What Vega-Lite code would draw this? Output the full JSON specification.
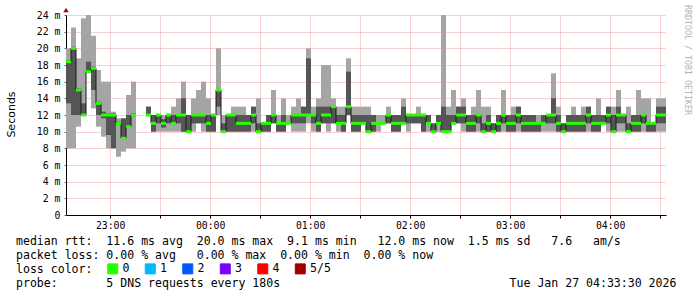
{
"$schema": "https://vega.github.io/schema/vega-lite/v6.json",
"width": 600, "height": 200,
"autosize": {"type": "none"},
"padding": {"left": 66, "top": 15, "right": 31, "bottom": 82},
"background": "white",
"config": {"view": {"stroke": null}},
"title": {"text": [
        "median rtt:\u00a0\u00a011.6\u00a0ms\u00a0avg\u00a0\u00a020.0\u00a0ms\u00a0max\u00a0\u00a09.1\u00a0ms\u00a0min\u00a0\u00a0\u00a012.0\u00a0ms\u00a0now\u00a0\u00a01.5\u00a0ms\u00a0sd\u00a0\u00a0\u00a07.6\u00a0\u00a0\u00a0am/s",
        "packet\u00a0loss:\u00a00.00\u00a0%\u00a0avg\u00a0\u00a0\u00a00.00\u00a0%\u00a0max\u00a0\u00a00.00\u00a0%\u00a0min\u00a0\u00a00.00\u00a0%\u00a0now",
        "loss\u00a0color:",
        "probe:\u00a0\u00a0\u00a0\u00a0\u00a0\u00a0\u00a05\u00a0DNS\u00a0requests\u00a0every\u00a0180s\u00a0\u00a0\u00a0\u00a0\u00a0\u00a0\u00a0\u00a0\u00a0\u00a0\u00a0\u00a0\u00a0\u00a0\u00a0\u00a0\u00a0\u00a0\u00a0\u00a0\u00a0\u00a0\u00a0\u00a0\u00a0\u00a0\u00a0\u00a0\u00a0\u00a0\u00a0\u00a0\u00a0Tue\u00a0Jan\u00a027\u00a004:33:30\u00a02026"
     ],
  "orient": "bottom", "anchor": "start", "frame": "group", "dx": -50, "offset": -40, "baseline": "top", "align": "left", "lineHeight": 14,
  "font": "DejaVu Sans Mono", "fontSize": 11.56, "fontWeight": "normal", "color": "#000000"},
"data": {"values": [
{"t":"2026-01-26T22:33:30","t2":"2026-01-26T22:36:30","lo":8,"q1":13.4,"md":18.4,"q3":18.6,"hi":20,"seg":0,"loss":"0"},
{"t":"2026-01-26T22:36:30","t2":"2026-01-26T22:39:30","lo":8,"q1":12,"md":20,"q3":20.2,"hi":22.5,"seg":0,"loss":"0"},
{"t":"2026-01-26T22:39:30","t2":"2026-01-26T22:42:30","lo":10.6,"q1":12,"md":15,"q3":15.2,"hi":18.8,"seg":0,"loss":"0"},
{"t":"2026-01-26T22:42:30","t2":"2026-01-26T22:45:30","lo":12,"q1":12,"md":12,"q3":13.4,"hi":23.6,"seg":0,"loss":"0"},
{"t":"2026-01-26T22:45:30","t2":"2026-01-26T22:48:30","lo":17.2,"q1":17.2,"md":17.2,"q3":18.4,"hi":24,"seg":0,"loss":"0"},
{"t":"2026-01-26T22:48:30","t2":"2026-01-26T22:51:30","lo":12.8,"q1":15,"md":17.6,"q3":17.8,"hi":21.5,"seg":0,"loss":"0"},
{"t":"2026-01-26T22:51:30","t2":"2026-01-26T22:54:30","lo":10.6,"q1":12,"md":13.4,"q3":13.6,"hi":17.4,"seg":0,"loss":"0"},
{"t":"2026-01-26T22:54:30","t2":"2026-01-26T22:57:30","lo":9.4,"q1":11.6,"md":12,"q3":12.4,"hi":16,"seg":0,"loss":"0"},
{"t":"2026-01-26T22:57:30","t2":"2026-01-26T23:00:30","lo":8,"q1":9.6,"md":12,"q3":12.2,"hi":16,"seg":0,"loss":"0"},
{"t":"2026-01-26T23:00:30","t2":"2026-01-26T23:03:30","lo":8,"q1":8,"md":12,"q3":12.2,"hi":12.4,"seg":0,"loss":"0"},
{"t":"2026-01-26T23:03:30","t2":"2026-01-26T23:06:30","lo":7,"q1":11,"md":11,"q3":11.2,"hi":11.6,"seg":0,"loss":"0"},
{"t":"2026-01-26T23:06:30","t2":"2026-01-26T23:09:30","lo":7.6,"q1":9.2,"md":9.2,"q3":11.6,"hi":11.6,"seg":0,"loss":"0"},
{"t":"2026-01-26T23:09:30","t2":"2026-01-26T23:12:30","lo":8,"q1":10.6,"md":10.6,"q3":12,"hi":14.4,"seg":0,"loss":"0"},
{"t":"2026-01-26T23:12:30","t2":"2026-01-26T23:15:30","lo":8,"q1":12,"md":12,"q3":12.2,"hi":16,"seg":0,"loss":"0"},
{"t":"2026-01-26T23:21:30","t2":"2026-01-26T23:24:30","lo":12,"q1":12,"md":12,"q3":13,"hi":13,"seg":1,"loss":"0"},
{"t":"2026-01-26T23:24:30","t2":"2026-01-26T23:27:30","lo":10,"q1":10,"md":11,"q3":12,"hi":12,"seg":1,"loss":"0"},
{"t":"2026-01-26T23:27:30","t2":"2026-01-26T23:30:30","lo":10,"q1":11,"md":12,"q3":12,"hi":12,"seg":1,"loss":"0"},
{"t":"2026-01-26T23:30:30","t2":"2026-01-26T23:33:30","lo":10,"q1":10.5,"md":11,"q3":11.5,"hi":12,"seg":1,"loss":"0"},
{"t":"2026-01-26T23:33:30","t2":"2026-01-26T23:36:30","lo":10,"q1":11,"md":12,"q3":12,"hi":12,"seg":1,"loss":"0"},
{"t":"2026-01-26T23:36:30","t2":"2026-01-26T23:39:30","lo":10,"q1":11,"md":11,"q3":12,"hi":13,"seg":1,"loss":"0"},
{"t":"2026-01-26T23:39:30","t2":"2026-01-26T23:42:30","lo":10,"q1":11,"md":12,"q3":12,"hi":14,"seg":1,"loss":"0"},
{"t":"2026-01-26T23:42:30","t2":"2026-01-26T23:45:30","lo":10,"q1":10,"md":12,"q3":14,"hi":16,"seg":1,"loss":"0"},
{"t":"2026-01-26T23:45:30","t2":"2026-01-26T23:48:30","lo":10,"q1":10,"md":10,"q3":12,"hi":12,"seg":1,"loss":"0"},
{"t":"2026-01-26T23:48:30","t2":"2026-01-26T23:51:30","lo":10,"q1":11,"md":12,"q3":12,"hi":14,"seg":1,"loss":"0"},
{"t":"2026-01-26T23:51:30","t2":"2026-01-26T23:54:30","lo":11,"q1":11,"md":12,"q3":12,"hi":15,"seg":1,"loss":"0"},
{"t":"2026-01-26T23:54:30","t2":"2026-01-26T23:57:30","lo":10,"q1":11,"md":12,"q3":12,"hi":16,"seg":1,"loss":"0"},
{"t":"2026-01-26T23:57:30","t2":"2026-01-27T00:00:30","lo":10,"q1":10,"md":11,"q3":12,"hi":14,"seg":1,"loss":"0"},
{"t":"2026-01-27T00:00:30","t2":"2026-01-27T00:03:30","lo":10,"q1":10,"md":12,"q3":12,"hi":12,"seg":1,"loss":"0"},
{"t":"2026-01-27T00:03:30","t2":"2026-01-27T00:06:30","lo":12,"q1":13,"md":15,"q3":15,"hi":20,"seg":1,"loss":"0"},
{"t":"2026-01-27T00:06:30","t2":"2026-01-27T00:09:30","lo":10,"q1":10,"md":10,"q3":11,"hi":12,"seg":1,"loss":"0"},
{"t":"2026-01-27T00:09:30","t2":"2026-01-27T00:12:30","lo":10,"q1":10,"md":12,"q3":12,"hi":12,"seg":1,"loss":"0"},
{"t":"2026-01-27T00:12:30","t2":"2026-01-27T00:15:30","lo":10,"q1":10,"md":12,"q3":12,"hi":13,"seg":1,"loss":"0"},
{"t":"2026-01-27T00:15:30","t2":"2026-01-27T00:18:30","lo":10,"q1":10,"md":11,"q3":12,"hi":13,"seg":1,"loss":"0"},
{"t":"2026-01-27T00:18:30","t2":"2026-01-27T00:21:30","lo":10,"q1":10,"md":11,"q3":12,"hi":13,"seg":1,"loss":"0"},
{"t":"2026-01-27T00:21:30","t2":"2026-01-27T00:24:30","lo":10,"q1":10,"md":11,"q3":12,"hi":12,"seg":1,"loss":"0"},
{"t":"2026-01-27T00:24:30","t2":"2026-01-27T00:27:30","lo":10,"q1":11,"md":12,"q3":13,"hi":13,"seg":1,"loss":"0"},
{"t":"2026-01-27T00:27:30","t2":"2026-01-27T00:30:30","lo":10,"q1":10,"md":10,"q3":11,"hi":14,"seg":1,"loss":"0"},
{"t":"2026-01-27T00:30:30","t2":"2026-01-27T00:33:30","lo":10,"q1":10,"md":11,"q3":11,"hi":11,"seg":1,"loss":"0"},
{"t":"2026-01-27T00:33:30","t2":"2026-01-27T00:36:30","lo":10,"q1":10,"md":11,"q3":12,"hi":12,"seg":1,"loss":"0"},
{"t":"2026-01-27T00:36:30","t2":"2026-01-27T00:39:30","lo":11,"q1":11,"md":12,"q3":12,"hi":15,"seg":1,"loss":"0"},
{"t":"2026-01-27T00:39:30","t2":"2026-01-27T00:42:30","lo":10,"q1":10,"md":11,"q3":11,"hi":12,"seg":1,"loss":"0"},
{"t":"2026-01-27T00:42:30","t2":"2026-01-27T00:45:30","lo":10,"q1":10,"md":11,"q3":12,"hi":14,"seg":1,"loss":"0"},
{"t":"2026-01-27T00:45:30","t2":"2026-01-27T00:48:30","lo":11,"q1":11,"md":11,"q3":11,"hi":12,"seg":1,"loss":"0"},
{"t":"2026-01-27T00:48:30","t2":"2026-01-27T00:51:30","lo":10,"q1":11,"md":12,"q3":12,"hi":13,"seg":1,"loss":"0"},
{"t":"2026-01-27T00:51:30","t2":"2026-01-27T00:54:30","lo":10,"q1":11,"md":12,"q3":12,"hi":14,"seg":1,"loss":"0"},
{"t":"2026-01-27T00:54:30","t2":"2026-01-27T00:57:30","lo":10,"q1":11,"md":12,"q3":13,"hi":13,"seg":1,"loss":"0"},
{"t":"2026-01-27T00:57:30","t2":"2026-01-27T01:00:30","lo":11,"q1":12,"md":12,"q3":18.8,"hi":20,"seg":1,"loss":"0"},
{"t":"2026-01-27T01:00:30","t2":"2026-01-27T01:03:30","lo":10,"q1":11,"md":12,"q3":12,"hi":13,"seg":1,"loss":"0"},
{"t":"2026-01-27T01:03:30","t2":"2026-01-27T01:06:30","lo":10,"q1":10,"md":11,"q3":13,"hi":14,"seg":1,"loss":"0"},
{"t":"2026-01-27T01:06:30","t2":"2026-01-27T01:09:30","lo":11,"q1":11,"md":12,"q3":13,"hi":18,"seg":1,"loss":"0"},
{"t":"2026-01-27T01:09:30","t2":"2026-01-27T01:12:30","lo":10,"q1":11,"md":12,"q3":13,"hi":18,"seg":1,"loss":"0"},
{"t":"2026-01-27T01:12:30","t2":"2026-01-27T01:15:30","lo":11,"q1":11,"md":13,"q3":13,"hi":14,"seg":1,"loss":"0"},
{"t":"2026-01-27T01:15:30","t2":"2026-01-27T01:18:30","lo":10,"q1":11,"md":11,"q3":12,"hi":13,"seg":1,"loss":"0"},
{"t":"2026-01-27T01:18:30","t2":"2026-01-27T01:21:30","lo":10,"q1":10,"md":11,"q3":12,"hi":13,"seg":1,"loss":"0"},
{"t":"2026-01-27T01:21:30","t2":"2026-01-27T01:24:30","lo":12,"q1":12,"md":13,"q3":17.2,"hi":18.8,"seg":1,"loss":"0"},
{"t":"2026-01-27T01:24:30","t2":"2026-01-27T01:27:30","lo":10,"q1":10,"md":11,"q3":12,"hi":13,"seg":1,"loss":"0"},
{"t":"2026-01-27T01:27:30","t2":"2026-01-27T01:30:30","lo":10,"q1":10,"md":11,"q3":12,"hi":13,"seg":1,"loss":"0"},
{"t":"2026-01-27T01:30:30","t2":"2026-01-27T01:33:30","lo":11,"q1":11,"md":11,"q3":12,"hi":13,"seg":1,"loss":"0"},
{"t":"2026-01-27T01:33:30","t2":"2026-01-27T01:36:30","lo":10,"q1":10,"md":10,"q3":12,"hi":13,"seg":1,"loss":"0"},
{"t":"2026-01-27T01:36:30","t2":"2026-01-27T01:39:30","lo":10,"q1":10,"md":11,"q3":12,"hi":12,"seg":1,"loss":"0"},
{"t":"2026-01-27T01:39:30","t2":"2026-01-27T01:42:30","lo":10,"q1":11,"md":11,"q3":11,"hi":12,"seg":1,"loss":"0"},
{"t":"2026-01-27T01:42:30","t2":"2026-01-27T01:45:30","lo":11,"q1":11,"md":11,"q3":11,"hi":12,"seg":1,"loss":"0"},
{"t":"2026-01-27T01:45:30","t2":"2026-01-27T01:48:30","lo":11,"q1":11,"md":12,"q3":12,"hi":13,"seg":1,"loss":"0"},
{"t":"2026-01-27T01:48:30","t2":"2026-01-27T01:51:30","lo":10,"q1":10,"md":11,"q3":12,"hi":12,"seg":1,"loss":"0"},
{"t":"2026-01-27T01:51:30","t2":"2026-01-27T01:54:30","lo":10,"q1":10,"md":11,"q3":12,"hi":12,"seg":1,"loss":"0"},
{"t":"2026-01-27T01:54:30","t2":"2026-01-27T01:57:30","lo":11,"q1":11,"md":11,"q3":13,"hi":14,"seg":1,"loss":"0"},
{"t":"2026-01-27T01:57:30","t2":"2026-01-27T02:00:30","lo":10,"q1":11,"md":12,"q3":12,"hi":12,"seg":1,"loss":"0"},
{"t":"2026-01-27T02:00:30","t2":"2026-01-27T02:03:30","lo":11,"q1":11,"md":12,"q3":12,"hi":12,"seg":1,"loss":"0"},
{"t":"2026-01-27T02:03:30","t2":"2026-01-27T02:06:30","lo":11,"q1":11,"md":12,"q3":12,"hi":13,"seg":1,"loss":"0"},
{"t":"2026-01-27T02:06:30","t2":"2026-01-27T02:09:30","lo":10,"q1":10,"md":12,"q3":12,"hi":12,"seg":1,"loss":"0"},
{"t":"2026-01-27T02:09:30","t2":"2026-01-27T02:12:30","lo":10,"q1":11,"md":11,"q3":12,"hi":12,"seg":1,"loss":"0"},
{"t":"2026-01-27T02:12:30","t2":"2026-01-27T02:15:30","lo":10,"q1":10,"md":10,"q3":11,"hi":11,"seg":1,"loss":"0"},
{"t":"2026-01-27T02:15:30","t2":"2026-01-27T02:18:30","lo":10,"q1":11,"md":11,"q3":12,"hi":12,"seg":1,"loss":"0"},
{"t":"2026-01-27T02:18:30","t2":"2026-01-27T02:21:30","lo":10,"q1":10,"md":10,"q3":13,"hi":24,"seg":1,"loss":"0"},
{"t":"2026-01-27T02:21:30","t2":"2026-01-27T02:24:30","lo":10,"q1":10,"md":10,"q3":12,"hi":13,"seg":1,"loss":"0"},
{"t":"2026-01-27T02:24:30","t2":"2026-01-27T02:27:30","lo":11,"q1":11,"md":11,"q3":12,"hi":15,"seg":1,"loss":"0"},
{"t":"2026-01-27T02:27:30","t2":"2026-01-27T02:30:30","lo":11,"q1":11,"md":12,"q3":13,"hi":13,"seg":1,"loss":"0"},
{"t":"2026-01-27T02:30:30","t2":"2026-01-27T02:33:30","lo":10,"q1":11,"md":12,"q3":13,"hi":14,"seg":1,"loss":"0"},
{"t":"2026-01-27T02:33:30","t2":"2026-01-27T02:36:30","lo":10,"q1":10,"md":11,"q3":12,"hi":12,"seg":1,"loss":"0"},
{"t":"2026-01-27T02:36:30","t2":"2026-01-27T02:39:30","lo":10,"q1":10,"md":11,"q3":12,"hi":13,"seg":1,"loss":"0"},
{"t":"2026-01-27T02:39:30","t2":"2026-01-27T02:42:30","lo":10,"q1":11,"md":12,"q3":12,"hi":15,"seg":1,"loss":"0"},
{"t":"2026-01-27T02:42:30","t2":"2026-01-27T02:45:30","lo":10,"q1":10,"md":10,"q3":11,"hi":13,"seg":1,"loss":"0"},
{"t":"2026-01-27T02:45:30","t2":"2026-01-27T02:48:30","lo":10,"q1":10,"md":11,"q3":12,"hi":13,"seg":1,"loss":"0"},
{"t":"2026-01-27T02:48:30","t2":"2026-01-27T02:51:30","lo":10,"q1":10,"md":10,"q3":11,"hi":11,"seg":1,"loss":"0"},
{"t":"2026-01-27T02:51:30","t2":"2026-01-27T02:54:30","lo":10,"q1":10,"md":11,"q3":12,"hi":12,"seg":1,"loss":"0"},
{"t":"2026-01-27T02:54:30","t2":"2026-01-27T02:57:30","lo":10,"q1":11,"md":12,"q3":12,"hi":15,"seg":1,"loss":"0"},
{"t":"2026-01-27T02:57:30","t2":"2026-01-27T03:00:30","lo":10,"q1":10,"md":11,"q3":12,"hi":12,"seg":1,"loss":"0"},
{"t":"2026-01-27T03:00:30","t2":"2026-01-27T03:03:30","lo":10,"q1":10,"md":11,"q3":12,"hi":13,"seg":1,"loss":"0"},
{"t":"2026-01-27T03:03:30","t2":"2026-01-27T03:06:30","lo":10,"q1":11,"md":12,"q3":13,"hi":13,"seg":1,"loss":"0"},
{"t":"2026-01-27T03:06:30","t2":"2026-01-27T03:09:30","lo":10,"q1":10,"md":11,"q3":12,"hi":12,"seg":1,"loss":"0"},
{"t":"2026-01-27T03:09:30","t2":"2026-01-27T03:12:30","lo":10,"q1":10,"md":11,"q3":12,"hi":12,"seg":1,"loss":"0"},
{"t":"2026-01-27T03:12:30","t2":"2026-01-27T03:15:30","lo":10,"q1":10,"md":11,"q3":12,"hi":12,"seg":1,"loss":"0"},
{"t":"2026-01-27T03:15:30","t2":"2026-01-27T03:18:30","lo":10,"q1":10,"md":11,"q3":11,"hi":12,"seg":1,"loss":"0"},
{"t":"2026-01-27T03:18:30","t2":"2026-01-27T03:21:30","lo":10,"q1":11,"md":11,"q3":12,"hi":12,"seg":1,"loss":"0"},
{"t":"2026-01-27T03:21:30","t2":"2026-01-27T03:24:30","lo":10,"q1":11,"md":12,"q3":12,"hi":12,"seg":1,"loss":"0"},
{"t":"2026-01-27T03:24:30","t2":"2026-01-27T03:27:30","lo":10,"q1":11,"md":12,"q3":14,"hi":17,"seg":1,"loss":"0"},
{"t":"2026-01-27T03:27:30","t2":"2026-01-27T03:30:30","lo":10,"q1":10,"md":11,"q3":12,"hi":13,"seg":1,"loss":"0"},
{"t":"2026-01-27T03:30:30","t2":"2026-01-27T03:33:30","lo":10,"q1":10,"md":10,"q3":11,"hi":11,"seg":1,"loss":"0"},
{"t":"2026-01-27T03:33:30","t2":"2026-01-27T03:36:30","lo":10,"q1":10,"md":11,"q3":12,"hi":12,"seg":1,"loss":"0"},
{"t":"2026-01-27T03:36:30","t2":"2026-01-27T03:39:30","lo":10,"q1":10,"md":11,"q3":12,"hi":13,"seg":1,"loss":"0"},
{"t":"2026-01-27T03:39:30","t2":"2026-01-27T03:42:30","lo":10,"q1":10,"md":11,"q3":12,"hi":12,"seg":1,"loss":"0"},
{"t":"2026-01-27T03:42:30","t2":"2026-01-27T03:45:30","lo":10,"q1":10,"md":11,"q3":12,"hi":13,"seg":1,"loss":"0"},
{"t":"2026-01-27T03:45:30","t2":"2026-01-27T03:48:30","lo":10,"q1":11,"md":12,"q3":13,"hi":13,"seg":1,"loss":"0"},
{"t":"2026-01-27T03:48:30","t2":"2026-01-27T03:51:30","lo":10,"q1":10,"md":11,"q3":12,"hi":12,"seg":1,"loss":"0"},
{"t":"2026-01-27T03:51:30","t2":"2026-01-27T03:54:30","lo":10,"q1":10,"md":11,"q3":12,"hi":14,"seg":1,"loss":"0"},
{"t":"2026-01-27T03:54:30","t2":"2026-01-27T03:57:30","lo":11,"q1":11,"md":11,"q3":12,"hi":12,"seg":1,"loss":"0"},
{"t":"2026-01-27T03:57:30","t2":"2026-01-27T04:00:30","lo":10,"q1":11,"md":12,"q3":13,"hi":13,"seg":1,"loss":"0"},
{"t":"2026-01-27T04:00:30","t2":"2026-01-27T04:03:30","lo":10,"q1":10,"md":10,"q3":12,"hi":13,"seg":1,"loss":"0"},
{"t":"2026-01-27T04:03:30","t2":"2026-01-27T04:06:30","lo":10,"q1":11,"md":12,"q3":13,"hi":15,"seg":1,"loss":"0"},
{"t":"2026-01-27T04:06:30","t2":"2026-01-27T04:09:30","lo":10,"q1":11,"md":12,"q3":12,"hi":12,"seg":1,"loss":"0"},
{"t":"2026-01-27T04:09:30","t2":"2026-01-27T04:12:30","lo":10,"q1":10,"md":10,"q3":11,"hi":13,"seg":1,"loss":"0"},
{"t":"2026-01-27T04:12:30","t2":"2026-01-27T04:15:30","lo":10,"q1":10,"md":11,"q3":12,"hi":12,"seg":1,"loss":"0"},
{"t":"2026-01-27T04:15:30","t2":"2026-01-27T04:18:30","lo":10,"q1":10,"md":11,"q3":12,"hi":15,"seg":1,"loss":"0"},
{"t":"2026-01-27T04:18:30","t2":"2026-01-27T04:21:30","lo":10,"q1":11,"md":12,"q3":12,"hi":14,"seg":1,"loss":"0"},
{"t":"2026-01-27T04:21:30","t2":"2026-01-27T04:24:30","lo":10,"q1":10,"md":11,"q3":11,"hi":14,"seg":1,"loss":"0"},
{"t":"2026-01-27T04:24:30","t2":"2026-01-27T04:27:30","lo":10,"q1":10,"md":11,"q3":11,"hi":11,"seg":1,"loss":"0"},
{"t":"2026-01-27T04:27:30","t2":"2026-01-27T04:30:30","lo":10,"q1":11,"md":12,"q3":13,"hi":14,"seg":1,"loss":"0"},
{"t":"2026-01-27T04:30:30","t2":"2026-01-27T04:33:30","lo":10,"q1":11,"md":12,"q3":13,"hi":14,"seg":1,"loss":"0"}
]},
"encoding": {
  "x": {"field": "t", "type": "temporal",
    "scale": {"domain": [{"year":2026,"month":1,"date":26,"hours":22,"minutes":33,"seconds":30},{"year":2026,"month":1,"date":27,"hours":4,"minutes":33,"seconds":30}]},
    "axis": {
      "tickCount": 12,
      "grid": true,
      "gridColor": "#eaa2a2",
      "gridDash": [1, 1],
      "domainColor": "#000000",
      "tickColor": "#000000",
      "tickSize": 3,
      "format": "%H:%M",
      "labelExpr": "minutes(datum.value) === 0 ? datum.label : ''",
      "labelFont": "DejaVu Sans Mono", "labelFontSize": 9.8, "labelColor": "#000000", "labelPadding": 2,
      "title": null
    }
  }
},
"layer": [
  {"mark": {"type": "rect", "color": "#a5a5a5"},
   "encoding": {
     "x2": {"field": "t2"},
     "y": {"field": "lo", "type": "quantitative", "scale": {"domain": [0, 24], "nice": false},
       "axis": {
         "values": [0,2,4,6,8,10,12,14,16,18,20,22,24],
         "tickCount": 30,
         "grid": true,
         "gridColor": "#eaa2a2",
         "gridDash": [1, 1],
         "domainColor": "#000000",
         "tickColor": "#666666", "tickSize": 2,
         "labelExpr": "datum.value === 0 ? '0' : datum.label + ' m'",
         "labelFont": "DejaVu Sans Mono", "labelFontSize": 9.9, "labelColor": "#000000", "labelPadding": 4,
         "title": "Seconds", "titleFont": "DejaVu Sans", "titleFontSize": 11, "titleFontWeight": "normal", "titleColor": "#000000",
         "titleAngle": 270, "titleAlign": "center", "titleBaseline": "middle", "titleX": -55, "titleY": 99
       }},
     "y2": {"field": "hi"}
   }},
  {"mark": {"type": "rect", "color": "#555555"},
   "encoding": {
     "x2": {"field": "t2"},
     "y": {"field": "q1", "type": "quantitative", "scale": {"domain": [0, 24], "nice": false}},
     "y2": {"field": "q3"}
   }},
  {"mark": {"type": "line", "interpolate": "step-after", "color": "#1a1a1a", "strokeWidth": 1},
   "encoding": {
     "y": {"field": "md", "type": "quantitative", "scale": {"domain": [0, 24], "nice": false}},
     "detail": {"field": "seg", "type": "nominal"}
   }},
  {"mark": {"type": "rule", "strokeWidth": 3, "strokeCap": "butt"},
   "encoding": {
     "x2": {"field": "t2"},
     "y": {"field": "md", "type": "quantitative", "scale": {"domain": [0, 24], "nice": false}},
     "color": {"field": "loss", "type": "nominal",
       "scale": {"domain": ["0", "1", "2", "3", "4", "5/5"], "range": ["#26ff00", "#00b8ff", "#0059ff", "#7e00ff", "#ff0000", "#a00000"]},
       "legend": {
         "orient": "none", "legendX": 41, "legendY": 248, "direction": "horizontal",
         "title": null,
         "labelFont": "DejaVu Sans Mono", "labelFontSize": 11.56, "labelColor": "#000000", "labelOffset": 4,
         "symbolType": "square", "symbolSize": 100, "symbolStrokeWidth": 1, "symbolStrokeColor": "#000000",
         "columnPadding": 12.5,
         "encode": {"symbols": {"update": {"fill": {"scale": "color", "field": "value"}, "stroke": {"value": "#000000"}, "strokeWidth": {"value": 1}, "opacity": {"value": 1}, "fillOpacity": {"value": 1}}}}
       }}
   }},
  {"mark": {"type": "text", "text": "RRDTOOL / TOBI OETIKER", "angle": 90, "align": "left", "baseline": "middle", "dx": -10, "dy": -21,
     "font": "DejaVu Sans Mono", "fontSize": 8.3, "color": "#b4b4b4"},
   "encoding": {
     "x": {"aggregate": "max", "field": "t2", "type": "temporal"},
     "y": {"aggregate": "max", "field": "hi", "type": "quantitative", "scale": {"domain": [0, 24], "nice": false}}
   }},
  {"mark": {"type": "point", "shape": "triangle-up", "filled": true, "color": "#a01010", "size": 30, "opacity": 1, "yOffset": -5},
   "encoding": {
     "x": {"aggregate": "min", "field": "t", "type": "temporal"},
     "y": {"aggregate": "max", "field": "hi", "type": "quantitative", "scale": {"domain": [0, 24], "nice": false}}
   }}
]
}
